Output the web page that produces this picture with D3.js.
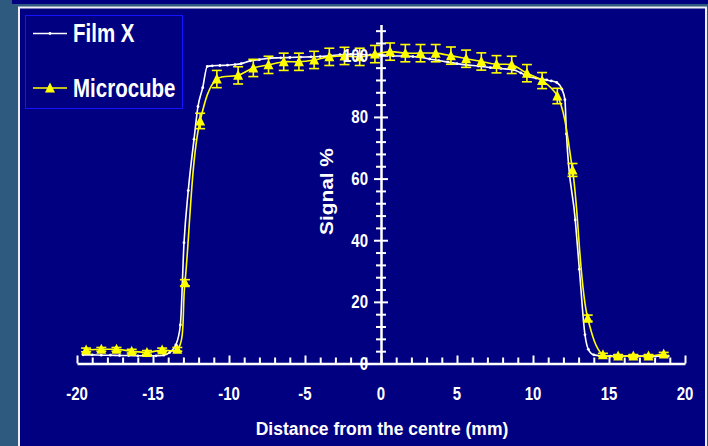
<!DOCTYPE html>
<html>
<head>
<script src="https://cdn.jsdelivr.net/npm/d3@7"></script>
<style>
  body { margin: 0; background: #2e5a80; }
  svg text { font-family: "Liberation Sans", Arial, sans-serif; font-weight: bold; fill: #ffffff; }
</style>
</head>
<body>
<div id="chart"></div>
<script>
// tick labels
var xTickLabels = [-20, -15, -10, -5, 0, 5, 10, 15, 20];
var yTickLabels = [0, 20, 40, 60, 80, 100];

// Film X profile (distance mm, signal %)
var filmMm  = [-19.6, -19.0, -18.4, -17.8, -17.2, -16.6, -16.0, -15.4, -14.8, -14.3, -13.9, -13.5, -13.2,
               -12.96, -12.68, -12.3, -12.04, -11.73, -11.43, -11.1, -10.6, -10.1, -9.6, -9.2, -8.6, -8.0,
               -7.3, -6.6, -6.0, -5.3, -4.6, -4.0, -3.3, -2.7, -2.0, -1.4, -0.7, 0.0, 0.8, 1.4, 2.1, 2.6,
               3.2, 3.8, 4.4, 5.0, 5.6, 6.4, 7.2, 7.9, 8.7, 9.2, 9.6, 10.2, 10.9, 11.2, 11.56, 11.9, 12.1,
               12.2, 12.78, 13.05, 13.42, 13.64, 14.0, 14.5, 15.1, 15.7, 16.3, 16.9, 17.5, 18.1, 18.6, 18.9];
var filmSig = [2.8, 2.8, 2.7, 2.7, 2.6, 2.6, 2.5, 2.5, 2.5, 2.7, 3.6, 6.0, 12.5,
               39.2, 56.1, 72.8, 83.4, 89.5, 96.4, 96.6, 96.7, 96.8, 97.0, 97.3, 98.2, 98.6,
               99.1, 99.2, 99.3, 99.4, 99.5, 99.6, 99.9, 100.2, 100.3, 100.3, 100.1, 100.2, 99.8, 99.8, 99.6, 99.4,
               98.8, 98.3, 97.8, 97.3, 96.9, 96.5, 96.0, 95.7, 95.3, 94.3, 93.3, 92.6, 92.0, 91.7, 91.2, 89.0, 85.6,
               74.5, 46.6, 30.6, 9.3, 4.6, 2.8, 2.5, 2.4, 2.4, 2.4, 2.4, 2.4, 2.4, 2.4, 2.4];

// Microcube measurements (distance mm, signal %, error %)
var microMm  = [-19.4, -18.4, -17.4, -16.4, -15.4, -14.4, -13.4, -12.9, -11.9, -10.8, -9.4, -8.4, -7.4, -6.4,
                -5.4, -4.4, -3.4, -2.4, -1.4, -0.4, 0.6, 1.6, 2.6, 3.6, 4.6, 5.6, 6.6, 7.6, 8.6, 9.6, 10.6,
                11.6, 12.6, 13.6, 14.6, 15.6, 16.6, 17.6, 18.6];
var microSig = [4.4, 4.6, 4.6, 4.0, 3.6, 4.4, 4.6, 26.2, 78.7, 92.3, 93.5, 95.9, 96.9, 97.9,
                97.9, 98.5, 99.5, 99.8, 99.5, 100.4, 101.2, 100.7, 100.7, 100.7, 99.9, 98.9, 98.0, 97.1, 96.9, 94.2, 91.8,
                86.8, 62.8, 14.7, 2.8, 2.4, 2.4, 2.4, 3.1];
var microErr = [0.6, 0.6, 0.6, 0.6, 0.6, 0.6, 0.6, 1.0, 2.5, 2.8, 2.8, 2.8, 2.8, 2.8,
                2.8, 2.8, 2.8, 2.8, 2.8, 2.8, 2.8, 2.8, 2.8, 2.8, 2.8, 2.8, 2.8, 2.8, 2.8, 2.8, 2.6,
                2.5, 2.1, 1.0, 0.5, 0.5, 0.5, 0.5, 0.5];

var W = 708, H = 446;
var svg = d3.select("#chart").append("svg").attr("width", W).attr("height", H);

// slide background + frame
svg.append("rect").attr("width", W).attr("height", H).attr("fill", "#2e5a80");
svg.append("rect").attr("x", 12).attr("y", 0).attr("width", W - 12).attr("height", 4).attr("fill", "#000080");
svg.append("rect").attr("x", 19).attr("y", 7.5).attr("width", 687).attr("height", H)
    .attr("fill", "#000080").attr("stroke", "#eeeef4").attr("stroke-width", 2);

var x = d3.scaleLinear().domain([-20, 20]).range([77, 685]);
var y = d3.scaleLinear().domain([0, 110]).range([363.5, 24.5]);

// text helper: stretched bold labels like the slide
function label(str, tx, ty, size, sx, sy, anchor, rot) {
    var t = "translate(" + tx + "," + ty + ")" + (rot ? " rotate(" + rot + ")" : "") + " scale(" + sx + "," + sy + ")";
    return svg.append("text").attr("transform", t).attr("text-anchor", anchor)
        .style("font-size", size + "px").text(str);
}

// x axis (ticks pointing up)
var xAxis = svg.append("g").attr("transform", "translate(0," + y(0) + ")")
    .call(d3.axisTop(x).tickValues(d3.range(-20, 21)).tickSize(6).tickSizeOuter(0).tickFormat(""));
xAxis.select(".domain").attr("stroke", "#fff").attr("stroke-width", 2.5);
xAxis.selectAll(".tick line").attr("stroke", "#fff").attr("stroke-width", 2)
    .attr("y2", function (d) { return d % 5 === 0 ? -8 : -6; });

// y axis at x = 0, crossing ticks
var yAxis = svg.append("g").attr("transform", "translate(" + x(0) + ",0)")
    .call(d3.axisLeft(y).tickValues(d3.range(0, 110, 4)).tickSizeOuter(0).tickFormat(""));
yAxis.select(".domain").attr("stroke", "#fff").attr("stroke-width", 2.5);
yAxis.selectAll(".tick line").attr("stroke", "#fff").attr("stroke-width", 2)
    .attr("x1", function (d) { return d % 20 === 0 ? 7 : 5; })
    .attr("x2", function (d) { return d % 20 === 0 ? -7 : -5; });

// Film X line
var film = filmMm.map(function (d, i) { return [d, filmSig[i]]; });
var lineF = d3.line().x(function (d) { return x(d[0]); }).y(function (d) { return y(d[1]); })
    .curve(d3.curveMonotoneX);
svg.append("path").datum(film).attr("d", lineF).attr("fill", "none")
    .attr("stroke", "#fff").attr("stroke-width", 1.6);
svg.append("g").selectAll("circle").data(film).enter().append("circle")
    .attr("cx", function (d) { return x(d[0]); })
    .attr("cy", function (d) { return y(d[1]); })
    .attr("r", 1.4).attr("fill", "#fff");

// Microcube line, error bars, triangles
var micro = microMm.map(function (d, i) { return [d, microSig[i], microErr[i]]; });
var lineM = d3.line().x(function (d) { return x(d[0]); }).y(function (d) { return y(d[1]); })
    .curve(d3.curveCatmullRom.alpha(0.5));
svg.append("path").datum(micro).attr("d", lineM).attr("fill", "none")
    .attr("stroke", "#ffff00").attr("stroke-width", 1.6);

var eb = svg.append("g").attr("stroke", "#ffff00").attr("stroke-width", 1.6);
micro.forEach(function (d) {
    var cx = x(d[0]), y1 = y(d[1] + d[2]), y2 = y(d[1] - d[2]);
    eb.append("line").attr("x1", cx).attr("x2", cx).attr("y1", y1).attr("y2", y2);
    eb.append("line").attr("x1", cx - 5).attr("x2", cx + 5).attr("y1", y1).attr("y2", y1);
    eb.append("line").attr("x1", cx - 5).attr("x2", cx + 5).attr("y1", y2).attr("y2", y2);
});
var tri = "M0,-5.5L5,4.5L-5,4.5Z";
svg.append("g").selectAll("path").data(micro).enter().append("path")
    .attr("d", tri).attr("fill", "#ffff00")
    .attr("transform", function (d) { return "translate(" + x(d[0]) + "," + y(d[1]) + ")"; });

// tick labels
xTickLabels.forEach(function (v) { label(String(v), x(v), 400, 15, 1, 1.2, "middle"); });
yTickLabels.forEach(function (v) { label(String(v), 368, y(v) + 6.5, 15, 1, 1.2, "end"); });

// axis titles
label("Distance from the centre (mm)", 382, 435, 17.5, 1, 1.1, "middle");
label("Signal %", 333, 191.5, 18.6, 1.12, 1, "middle", -90);

// legend
svg.append("rect").attr("x", 25.5).attr("y", 15.5).attr("width", 157).attr("height", 93)
    .attr("fill", "#000080").attr("stroke", "#1414ff").attr("stroke-width", 1);
svg.append("line").attr("x1", 33).attr("x2", 67).attr("y1", 33.5).attr("y2", 33.5)
    .attr("stroke", "#fff").attr("stroke-width", 1.6);
svg.append("circle").attr("cx", 50).attr("cy", 33.5).attr("r", 1.4).attr("fill", "#fff");
svg.append("line").attr("x1", 33).attr("x2", 67).attr("y1", 88).attr("y2", 88)
    .attr("stroke", "#ffff00").attr("stroke-width", 1.6);
svg.append("path").attr("d", tri).attr("fill", "#ffff00").attr("transform", "translate(50,88)");
label("Film X", 73, 41.7, 20.5, 1, 1.23, "start");
label("Microcube", 73, 96.7, 20.5, 1, 1.23, "start");
</script>
</body>
</html>
